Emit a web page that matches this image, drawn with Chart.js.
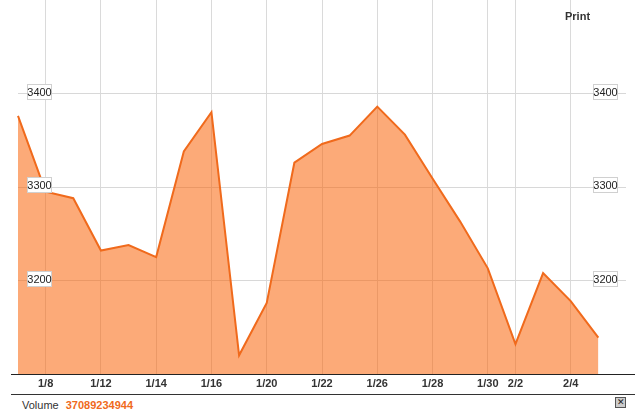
<!DOCTYPE html>
<html>
<head>
<meta charset="utf-8">
<script src="https://cdn.jsdelivr.net/npm/chart.js@4.4.1/dist/chart.umd.min.js"></script>
<style>
  html, body { margin: 0; padding: 0; background: #fff; }
  #wrap { position: relative; width: 644px; height: 413px; overflow: hidden; font-family: "Liberation Sans", Arial, sans-serif; }
  #c { position: absolute; left: 0; top: 0; }
  .hline { position: absolute; height: 1px; background: #222; }
  #print { position: absolute; left: 565px; top: 10px; font-size: 11px; font-weight: bold; color: #333; }
  #vol { position: absolute; left: 22px; top: 399px; font-size: 11px; color: #333; white-space: nowrap; }
  #vol b { color: #f06a1c; margin-left: 7px; }
  #close { position: absolute; left: 615px; top: 397px; width: 9px; height: 9px; border: 1px solid #555; background: #ccc; font-size: 9px; line-height: 9px; text-align: center; color: #222; }
</style>
</head>
<body>
<div id="wrap">
  <canvas id="c" width="644" height="394"></canvas>
  <div class="hline" style="left:11px; top:374px; width:624px;"></div>
  <div class="hline" style="left:11px; top:394px; width:624px; background:#333;"></div>
  <div id="print">Print</div>
  <div id="vol">Volume<b>37089234944</b></div>
  <div id="close">✕</div>
</div>
<script>
const dates = ['1/7','1/8','1/9','1/12','1/13','1/14','1/15','1/16','1/19','1/20','1/21','1/22','1/23','1/26','1/27','1/28','1/29','1/30','2/2','2/3','2/4','2/5'];
const prices = [3376, 3295, 3288, 3232, 3238, 3225, 3338, 3380, 3120, 3176, 3326, 3346, 3355, 3386, 3356, 3309, 3263, 3213, 3132, 3208, 3178, 3139];
const shownTicks = ['1/8','1/12','1/14','1/16','1/20','1/22','1/26','1/28','1/30','2/2','2/4'];
const priceTicks = [3200, 3300, 3400];

const axisLabels = dates.concat(['']);

const boxLabels = {
  id: 'boxLabels',
  afterDraw(chart) {
    const ctx = chart.ctx;
    const y = chart.scales.y;
    ctx.save();
    ctx.font = '11px "Liberation Sans", Arial, sans-serif';
    ctx.textAlign = 'center';
    ctx.textBaseline = 'middle';
    priceTicks.forEach(v => {
      const py = Math.round(y.getPixelForValue(v));
      [27, 593].forEach(lx => {
        ctx.fillStyle = '#fff';
        ctx.fillRect(lx + 0.5, py - 9.5, 24, 15);
        ctx.strokeStyle = '#d0d0d0';
        ctx.lineWidth = 1;
        ctx.strokeRect(lx + 0.5, py - 9.5, 24, 15);
        ctx.fillStyle = '#222';
        ctx.fillText(String(v), lx + 12.5, py - 1.5);
      });
    });
    ctx.restore();
  }
};

new Chart(document.getElementById('c'), {
  type: 'line',
  data: {
    labels: axisLabels,
    datasets: [{
      data: prices,
      borderColor: '#f06a1c',
      borderWidth: 2,
      backgroundColor: 'rgba(249,100,10,0.55)',
      fill: 'start',
      pointRadius: 0,
      tension: 0
    }]
  },
  options: {
    responsive: false,
    animation: false,
    devicePixelRatio: 1,
    layout: { padding: { left: 18, right: 18, top: 0, bottom: 0 } },
    plugins: { legend: { display: false }, tooltip: { enabled: false } },
    scales: {
      x: {
        offset: false,
        afterFit: s => { s.height = 20; },
        border: { display: false },
        grid: {
          drawTicks: false,
          lineWidth: 1,
          color: ctx => shownTicks.includes(axisLabels[ctx.index]) ? '#dadada' : 'rgba(0,0,0,0)'
        },
        ticks: {
          autoSkip: false,
          maxRotation: 0,
          padding: 3,
          color: '#333',
          font: { family: '"Liberation Sans", Arial, sans-serif', size: 11, weight: 'bold' },
          callback: function(value) {
            const l = this.getLabelForValue(value);
            return shownTicks.includes(l) ? l : '';
          }
        }
      },
      y: {
        min: 3100,
        max: 3500,
        afterFit: s => { s.width = 0; },
        border: { display: false },
        grid: {
          drawTicks: false,
          color: ctx => priceTicks.includes(ctx.tick && ctx.tick.value) ? '#d8d8d8' : 'rgba(0,0,0,0)'
        },
        ticks: { display: false, stepSize: 100 }
      }
    }
  },
  plugins: [boxLabels]
});
</script>
</body>
</html>
